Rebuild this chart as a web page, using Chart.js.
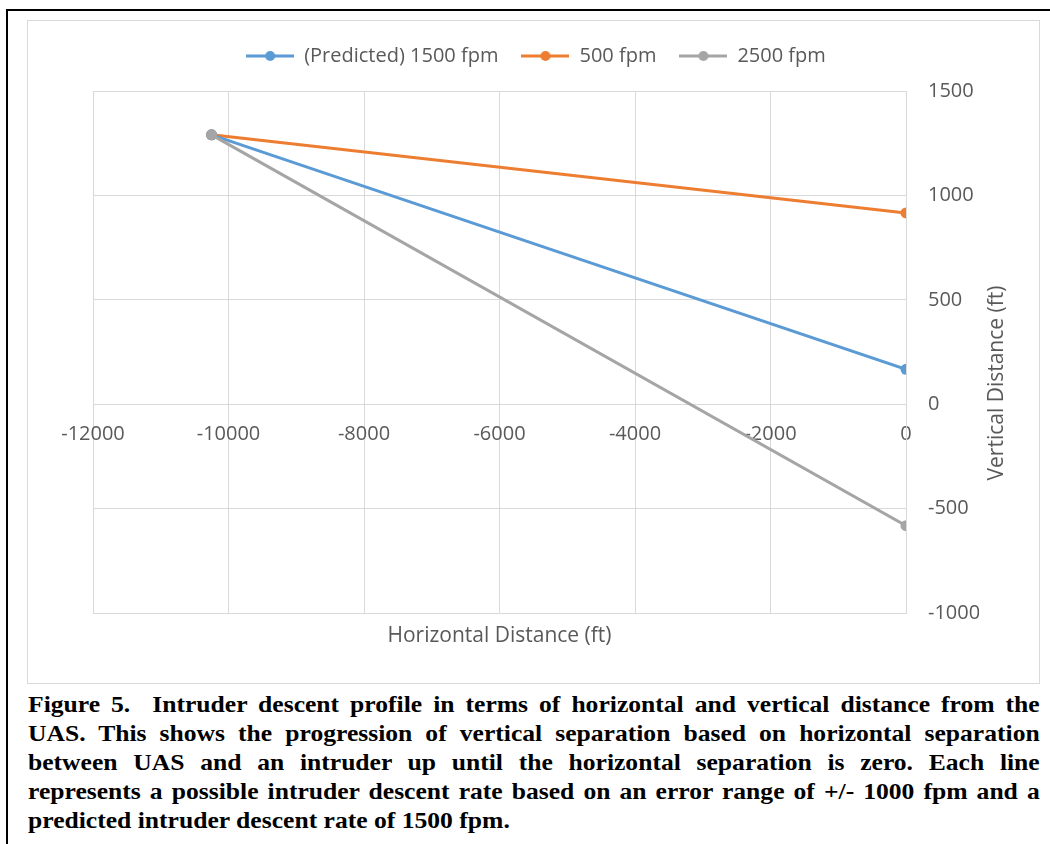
<!DOCTYPE html>
<html>
<head>
<meta charset="utf-8">
<script src="https://cdn.jsdelivr.net/npm/chart.js"></script>
<style>
  body { margin: 0; width: 1050px; height: 844px; overflow: hidden; background: #fff; position: relative; }
  #frame { position: absolute; left: 6px; top: 9px; width: 1100px; height: 900px; border: 2px solid #000; }
  #box { position: absolute; left: 27px; top: 20px; width: 1011px; height: 662px; border: 1px solid #d9d9d9; background: #fff; }
  #caption { position: absolute; left: 28px; top: 690px; width: 909px; font: bold 23px "Liberation Serif", serif; line-height: 29px; color: #000;
             transform: scaleX(1.113); transform-origin: 0 0; }
  #caption div { text-align: justify; text-align-last: justify; white-space: nowrap; }
  #caption div.last { text-align-last: left; }
</style>
</head>
<body>
<div id="frame"></div>
<div id="box"><canvas id="myChart" width="1011" height="662"></canvas></div>
<div id="caption">
  <div>Figure 5.&nbsp; Intruder descent profile in terms of horizontal and vertical distance from the</div>
  <div>UAS. This shows the progression of vertical separation based on horizontal separation</div>
  <div>between UAS and an intruder up until the horizontal separation is zero. Each line</div>
  <div>represents a possible intruder descent rate based on an error range of +/- 1000 fpm and a</div>
  <div class="last">predicted intruder descent rate of 1500 fpm.</div>
</div>
<script>
// horizontal distance (ft) of the two points on each line
let horizontal = [-10250, 0];
// vertical distance (ft) for each descent rate
let predicted1500 = [1290, 167];
let rate500 = [1290, 916];
let rate2500 = [1290, -582];

let seriesNames = ["(Predicted) 1500 fpm", "500 fpm", "2500 fpm"];
let seriesColors = ["#5b9bd5", "#ed7d31", "#a5a5a5"];

let xMin = -12000, xMax = 0, xStep = 2000;
let yMin = -1000, yMax = 1500, yStep = 500;
let xTitle = "Horizontal Distance (ft)";
let yTitle = "Vertical Distance (ft)";

function toPoints(ys) {
  return ys.map((y, i) => ({ x: horizontal[i], y: y }));
}

// little line-with-dot picture for the legend
function lineIcon(color) {
  let c = document.createElement("canvas");
  c.width = 48;
  c.height = 12;
  let ctx = c.getContext("2d");
  ctx.strokeStyle = color;
  ctx.lineWidth = 3;
  ctx.beginPath();
  ctx.moveTo(0, 6);
  ctx.lineTo(48, 6);
  ctx.stroke();
  ctx.fillStyle = color;
  ctx.beginPath();
  ctx.arc(24, 6, 5, 0, Math.PI * 2);
  ctx.fill();
  return c;
}
let icons = seriesColors.map(lineIcon);

let axisTitles = {
  id: "axisTitles",
  afterDraw(chart) {
    let ctx = chart.ctx;
    let area = chart.chartArea;
    ctx.save();
    ctx.fillStyle = "#595959";
    ctx.font = "21px 'Open Sans'";
    ctx.textAlign = "center";
    ctx.textBaseline = "middle";
    ctx.fillText(xTitle, (area.left + area.right) / 2, area.bottom + 23);
    ctx.translate(area.right + 91, (area.top + area.bottom) / 2 + 31);
    ctx.rotate(-Math.PI / 2);
    ctx.fillText(yTitle, 0, 0);
    ctx.restore();
  },
};

// leave more room between the legend and the plot
let legendGap = {
  id: "legendGap",
  beforeInit(chart) {
    let fit = chart.legend.fit;
    chart.legend.fit = function () {
      fit.bind(chart.legend)();
      this.height += 15;
    };
  },
};

Chart.defaults.font.family = "'Open Sans'";
Chart.defaults.font.size = 20;
Chart.defaults.color = "#595959";

function dataset(i, values, order) {
  return {
    label: seriesNames[i],
    data: toPoints(values),
    showLine: true,
    borderColor: seriesColors[i],
    backgroundColor: seriesColors[i],
    borderWidth: 3,
    pointRadius: 5.5,
    pointBorderWidth: 0,
    order: order,
  };
}

new Chart("myChart", {
  type: "scatter",
  data: {
    datasets: [
      dataset(0, predicted1500, 1),
      dataset(1, rate500, 2),
      dataset(2, rate2500, 0),
    ],
  },
  options: {
    responsive: false,
    animation: false,
    layout: { padding: { left: 65, top: 2, right: 60, bottom: 70 } },
    plugins: {
      tooltip: { enabled: false },
      legend: {
        position: "top",
        labels: {
          usePointStyle: true,
          pointStyleWidth: 48,
          padding: 23,
          sort: (a, b) => a.datasetIndex - b.datasetIndex,
          generateLabels: function (chart) {
            let items = Chart.defaults.plugins.legend.labels.generateLabels(chart);
            items.forEach((it) => { it.pointStyle = icons[it.datasetIndex]; });
            return items;
          },
        },
      },
    },
    scales: {
      x: {
        type: "linear",
        position: { y: 0 },
        min: xMin,
        max: xMax,
        ticks: { stepSize: xStep, autoSkip: false, maxRotation: 0, padding: 18, callback: (v) => String(v) },
        grid: { color: "#d9d9d9", drawTicks: false },
        border: { color: "#d9d9d9" },
      },
      y: {
        type: "linear",
        position: "right",
        min: yMin,
        max: yMax,
        ticks: { stepSize: yStep, padding: 22, callback: (v) => String(v) },
        grid: { color: "#d9d9d9", drawTicks: false },
        border: { color: "#d9d9d9" },
        afterFit: function (scale) { scale.width = 73; },
      },
    },
  },
  plugins: [axisTitles, legendGap],
});
</script>
</body>
</html>
